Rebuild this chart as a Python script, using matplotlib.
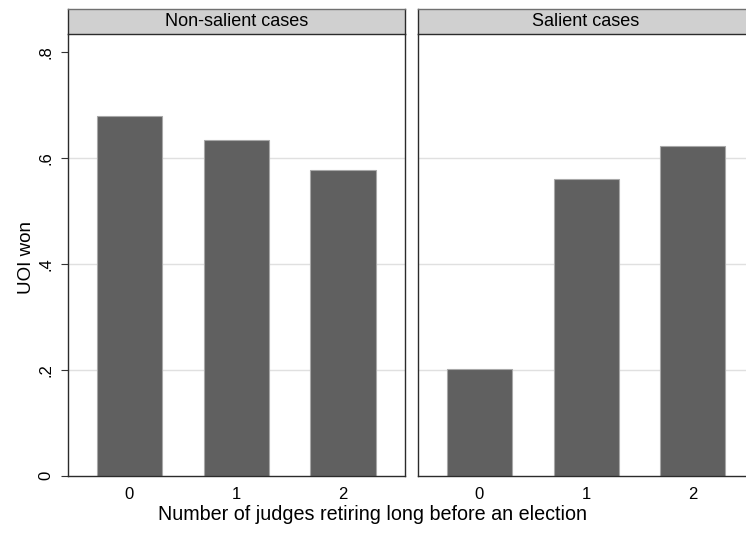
import numpy as np
import matplotlib
matplotlib.use('Agg')
import matplotlib.pyplot as plt

# --- dados ---
juizes = [0, 1, 2]
rotulos_x = ['0', '1', '2']
nao_salientes = [0.679, 0.633, 0.576]
salientes = [0.201, 0.560, 0.622]
paineis = ['Non-salient cases', 'Salient cases']
ticks_y = [0, 0.2, 0.4, 0.6, 0.8]
rotulos_y = ['0', '.2', '.4', '.6', '.8']
grade_y = [0.2, 0.4, 0.6]

plt.rcParams['font.family'] = ['Liberation Sans', 'DejaVu Sans']

fig = plt.figure(figsize=(7.46, 5.33), dpi=100)

base, altura = 0.1075, 0.8287
largura = 0.4515
esquerdas = [0.0908, 0.5599]
cor_barra = '#606060'
cor_borda = '#2b2b2b'

for i, (titulo, valores) in enumerate(zip(paineis, [nao_salientes, salientes])):
    ax = fig.add_axes([esquerdas[i], base, largura, altura])
    for g in grade_y:
        ax.axhline(g, color='#e0e0e0', lw=1.0, zorder=0)
    ax.bar(juizes, valores, width=0.61, color=cor_barra,
           edgecolor='#a8a8a8', linewidth=0.8, zorder=2)
    ax.set_xlim(-0.577, 2.577)
    ax.set_ylim(0, 0.8334)
    ax.set_xticks(juizes)
    ax.set_xticklabels(rotulos_x, fontsize=12)
    ax.tick_params(axis='x', length=0, pad=8)
    ax.set_yticks(ticks_y)
    if i == 0:
        ax.set_yticklabels(rotulos_y, fontsize=12, rotation=90, va='center')
        ax.tick_params(axis='y', length=4.8, width=0.8, pad=5.5, color='#333333')
    else:
        ax.set_yticklabels([])
        ax.tick_params(axis='y', length=0)
    for lado in ['left', 'right', 'bottom']:
        ax.spines[lado].set_color(cor_borda)
        ax.spines[lado].set_linewidth(1.0)
    ax.spines['top'].set_visible(False)

    # faixa do título do painel
    faixa = fig.add_axes([esquerdas[i], 0.9362, largura, 0.046])
    faixa.set_facecolor('#d0d0d0')
    faixa.set_xticks([])
    faixa.set_yticks([])
    for lado in faixa.spines:
        faixa.spines[lado].set_color(cor_borda)
        faixa.spines[lado].set_linewidth(1.0)
    faixa.spines['top'].set_color('#707070')
    faixa.text(0.5, 0.5, titulo, ha='center', va='center', fontsize=13,
               transform=faixa.transAxes)

fig.text(0.036, 0.516, 'UOI won', rotation=90, ha='center', va='center', fontsize=13.5)
fig.text(0.4987, 0.034, 'Number of judges retiring long before an election',
         ha='center', va='center', fontsize=14.2)

fig.savefig('out.png', dpi=100)
